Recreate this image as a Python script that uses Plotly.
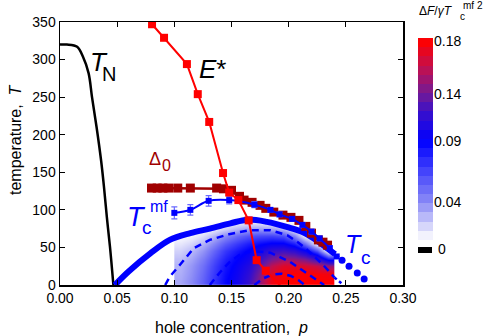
import numpy as np
import plotly.graph_objects as go

# ---------------- data ----------------
tn_p = [0.0, 0.006, 0.015, 0.020, 0.025, 0.028, 0.032, 0.036, 0.0385, 0.041, 0.0437, 0.0467]
tn_T = [320, 320, 317, 304, 282, 250, 210, 165, 130, 90, 51, 0]

estar_p = [0.0805, 0.091, 0.111, 0.1205, 0.1305, 0.1426, 0.148, 0.156, 0.165, 0.172, 0.180, 0.196]
estar_T = [347, 329, 294, 254, 217, 149, 123, 113, 86, 33, 19, -6]

delta_p = [0.080, 0.085, 0.090, 0.095, 0.103, 0.114, 0.137, 0.143, 0.150, 0.157, 0.161, 0.168,
           0.175, 0.180, 0.187, 0.195, 0.202, 0.209, 0.215, 0.220, 0.226, 0.230, 0.234]
delta_T = [129, 129, 129, 129, 129, 129, 129, 128, 126, 118, 113, 110,
           106, 102, 97, 93, 90, 86, 78, 69, 60, 57, 53]

tcmf_p = [0.100, 0.114, 0.130, 0.148, 0.170, 0.184, 0.192, 0.203, 0.212, 0.220, 0.227, 0.236, 0.242]
tcmf_T = [96, 100, 112, 113, 107, 100, 94, 88, 80, 71, 62, 49, 38]
tcmf_err = [8, 7, 7, 5, 4, 3, 3, 3, 3, 3, 3, 3, 0]

tc_p = [0.048, 0.060, 0.079, 0.096, 0.114, 0.131, 0.149, 0.164, 0.181, 0.199, 0.213, 0.222, 0.230, 0.2406]
tc_T = [0, 18, 42, 60, 69, 75, 82, 87, 84, 77, 70, 62, 53, 41]
tc_dot_p = [0.2467, 0.2528, 0.2600, 0.2660]
tc_dot_T = [33, 25, 16, 8]

dashA_p = [0.092, 0.096, 0.105, 0.117, 0.131, 0.149, 0.166, 0.184, 0.199, 0.208, 0.216, 0.223, 0.230, 0.236, 0.240]
dashA_T = [0, 11, 27, 49, 60, 68, 73, 73, 66, 57, 47, 37, 27, 17, 10]
dotA_p = [0.240, 0.244, 0.248]
dotA_T = [10, 5, 0]
dashC_p = [0.131, 0.140, 0.148, 0.157, 0.168, 0.184, 0.201, 0.216, 0.2275, 0.231]
dashC_T = [0, 17, 30, 40, 45, 43, 31, 16, 4, 0]
dashB_p = [0.170, 0.178, 0.186, 0.194, 0.202, 0.209, 0.214]
dashB_T = [0, 9, 14, 15, 12, 6, 0]

# condensation-energy map (rows: T centres, columns: p centres)
map_p = [0.105, 0.115, 0.125, 0.135, 0.145, 0.155, 0.165, 0.175, 0.185, 0.195, 0.205, 0.215, 0.225, 0.235]
map_T = [5, 15, 25, 35, 45, 55, 65, 75, 85, 95]
map_z = [
    [.030, .040, .055, .072, .088, .100, .118, .150, .175, .180, .180, .180, .180, .180],
    [.028, .038, .053, .070, .086, .098, .114, .145, .170, .178, .179, .179, .178, .176],
    [.026, .036, .050, .067, .083, .095, .108, .135, .160, .170, .170, .168, .162, .150],
    [.022, .031, .045, .062, .078, .090, .100, .120, .140, .150, .148, .140, .120, .080],
    [.016, .024, .037, .054, .070, .082, .092, .104, .118, .122, .115, .095, .060, .000],
    [.009, .015, .027, .042, .058, .070, .080, .088, .094, .094, .080, .050, .005, .000],
    [.001, .004, .013, .026, .040, .052, .060, .064, .066, .062, .042, .003, .000, .000],
    [.000, .000, .000, .007, .016, .026, .032, .034, .031, .025, .005, .000, .000, .000],
    [.000, .000, .000, .000, .000, .001, .004, .002, .000, .000, .000, .000, .000, .000],
    [.000, .000, .000, .000, .000, .000, .000, .000, .000, .000, .000, .000, .000, .000],
]

cbar_vals = [0.0, 0.04, 0.09, 0.14, 0.18]
cbar_labels = ["0.04", "0.09", "0.14", "0.18"]

# ---------------- styling ----------------
FONT = "Liberation Sans, Arial, sans-serif"
ZMAX = 0.18
cscale = [
    [0.0, "#ffffff"],
    [0.01 / ZMAX, "#e4e4fb"],
    [0.04 / ZMAX, "#8a8af6"],
    [0.09 / ZMAX, "#0000ff"],
    [0.12 / ZMAX, "#3810cc"],
    [0.14 / ZMAX, "#701a98"],
    [0.16 / ZMAX, "#c01050"],
    [1.0, "#ff0000"],
]

# page pixels (body margin removed by post_script)
W, H = 484, 336
L, T_, B = 60, 22, 51
PW, PH = W - L, H - T_ - B


def px(x):
    return (x - L) / PW


def py(y):
    return (H - B - y) / PH


fig = go.Figure()

fig.add_trace(go.Heatmap(x=map_p, y=map_T, z=map_z, zsmooth="best", colorscale=cscale,
                         zmin=0, zmax=ZMAX, showscale=False, hoverinfo="skip"))

BLUE = "#0000ff"
RED = "#ff0000"
DRED = "#a00000"

fig.add_trace(go.Scatter(x=dashA_p, y=dashA_T, mode="lines",
                         line=dict(color=BLUE, width=2.5, dash="7px,5px")))
fig.add_trace(go.Scatter(x=dotA_p, y=dotA_T, mode="lines",
                         line=dict(color=BLUE, width=2.5, dash="3px,3px")))
fig.add_trace(go.Scatter(x=dashC_p, y=dashC_T, mode="lines",
                         line=dict(color=BLUE, width=2.5, dash="7px,5px")))
fig.add_trace(go.Scatter(x=dashB_p, y=dashB_T, mode="lines",
                         line=dict(color=BLUE, width=2.5, dash="7px,5px")))

fig.add_trace(go.Scatter(x=tn_p, y=tn_T, mode="lines", line=dict(color="black", width=2.5, shape="spline")))

fig.add_trace(go.Scatter(x=tc_p, y=tc_T, mode="lines", line=dict(color=BLUE, width=6, shape="spline")))
fig.add_trace(go.Scatter(x=tc_dot_p, y=tc_dot_T, mode="markers",
                         marker=dict(color=BLUE, size=7, symbol="circle")))

fig.add_trace(go.Scatter(x=delta_p, y=delta_T, mode="lines+markers",
                         line=dict(color=DRED, width=2.5),
                         marker=dict(color=DRED, size=9, symbol="square")))

fig.add_trace(go.Scatter(x=tcmf_p, y=tcmf_T, mode="lines+markers",
                         line=dict(color=BLUE, width=2, shape="spline"),
                         marker=dict(color=BLUE, size=6, symbol="square"),
                         error_y=dict(type="data", array=tcmf_err, color="#6a6aff", thickness=1.2, width=3)))

fig.add_trace(go.Scatter(x=estar_p, y=estar_T, mode="lines+markers",
                         line=dict(color=RED, width=2),
                         marker=dict(color=RED, size=8, symbol="square")))

# colour legend as its own small heatmap
nb = 22
band_pos = (np.arange(nb) + 0.5) / nb
cbar_pos = [0.0, 0.187, 0.49, 0.72, 0.985]
band_z = np.interp(band_pos, cbar_pos, cbar_vals)
fig.add_trace(go.Heatmap(x=[0], y=band_pos, z=[[v] for v in band_z], xaxis="x2", yaxis="y2",
                         colorscale=cscale, zmin=0, zmax=ZMAX, showscale=False, hoverinfo="skip"))

axis_common = dict(showline=True, linecolor="black", linewidth=1.5, mirror="ticks",
                   ticks="inside", ticklen=5, tickwidth=1, tickcolor="black",
                   showgrid=False, zeroline=False, automargin=False,
                   tickfont=dict(family=FONT, size=14, color="black"))

fig.update_layout(
    template="none",
    width=W, height=H, autosize=False,
    margin=dict(l=L, r=0, t=T_, b=B, pad=0),
    paper_bgcolor="white", plot_bgcolor="white",
    showlegend=False,
    font=dict(family=FONT, color="black"),
    xaxis=dict(domain=[0, px(403)], range=[0, 0.30], tickvals=[0, 0.05, 0.10, 0.15, 0.20, 0.25, 0.30],
               tickformat=".2f", **axis_common),
    yaxis=dict(range=[0, 350], tickvals=[0, 50, 100, 150, 200, 250, 300, 350], **axis_common),
    xaxis2=dict(domain=[px(418), px(433)], anchor="y2", range=[-0.5, 0.5], visible=False, automargin=False),
    yaxis2=dict(domain=[py(240), py(38)], anchor="x2", range=[0, 1], side="right",
                tickvals=cbar_pos[1:], ticktext=cbar_labels, ticks="", showline=False,
                showgrid=False, zeroline=False, automargin=False,
                tickfont=dict(family=FONT, size=14, color="black")),
)

# black swatch for 0
fig.add_shape(type="rect", xref="paper", yref="paper", x0=px(418), x1=px(432), y0=py(253), y1=py(247),
              fillcolor="black", line=dict(width=0))

ann = []


def add(text, x, y, size, color="black", xanchor="center", yanchor="middle", ref="data", angle=0):
    d = dict(text=text, x=x, y=y, showarrow=False, xanchor=xanchor, yanchor=yanchor,
             font=dict(family=FONT, size=size, color=color), textangle=angle)
    if ref == "data":
        d.update(xref="x", yref="y")
    else:
        d.update(xref="paper", yref="paper")
    ann.append(d)


add("0", px(436), py(249), 14, xanchor="left", ref="paper")
add("Δ<i>F</i>/<i>γT</i>", px(417), py(11), 12, xanchor="left", ref="paper")
add("mf 2", px(461), py(5), 10, xanchor="left", ref="paper")
add("c", px(458), py(17), 10, xanchor="left", ref="paper")

add("hole concentration,  <i>p</i>", px(231.5), py(327), 16, ref="paper")
add("temperature,  <i>T</i>", px(15), py(140), 16, ref="paper", angle=-90)

# curve labels
add("<i>T</i>", 0.0340, 297, 26)
add("N", 0.0430, 281, 20)
add("<i>E</i>*", 0.1338, 287, 26)
add("Δ", 0.0827, 168, 18, color=DRED)
add("0", 0.0932, 159, 16, color=DRED)
add("<i>T</i>", 0.0669, 91, 27, color=BLUE)
add("mf", 0.0866, 104, 16, color=BLUE)
add("c", 0.0758, 76, 19, color=BLUE)
add("<i>T</i>", 0.2567, 55, 25, color=BLUE)
add("c", 0.2673, 37, 19, color=BLUE)

fig.update_layout(annotations=ann)

fig.write_html("out.html", config={"displayModeBar": False, "staticPlot": True},
               post_script="document.body.style.margin='0';document.body.style.overflow='hidden';")
